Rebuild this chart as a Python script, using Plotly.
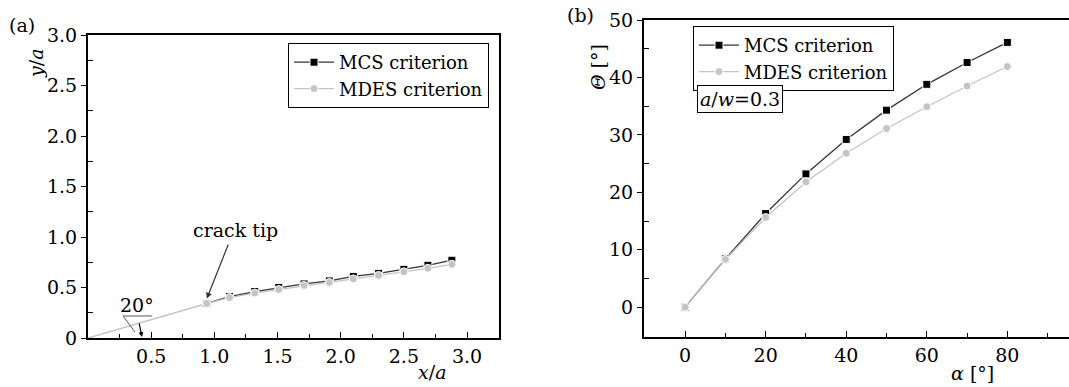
import plotly.graph_objects as go

# ---------------- data ----------------
# panel (a): crack paths
crack_x = [0.0, 0.94]
crack_y = [0.0, 0.342]
a_x = [0.94, 1.12, 1.32, 1.51, 1.71, 1.91, 2.10, 2.30, 2.50, 2.69, 2.88]
a_mcs_y = [0.342, 0.41, 0.46, 0.50, 0.535, 0.565, 0.61, 0.64, 0.68, 0.72, 0.77]
a_mdes_y = [0.342, 0.40, 0.445, 0.48, 0.52, 0.55, 0.585, 0.62, 0.655, 0.69, 0.73]
a_xticks = [0.5, 1.0, 1.5, 2.0, 2.5, 3.0]
a_xticklabels = ["0.5", "1.0", "1.5", "2.0", "2.5", "3.0"]
a_yticks = [0, 0.5, 1.0, 1.5, 2.0, 2.5, 3.0]
a_yticklabels = ["0", "0.5", "1.0", "1.5", "2.0", "2.5", "3.0"]

# panel (b): kink angle vs inclination
b_alpha = [0, 10, 20, 30, 40, 50, 60, 70, 80]
b_mcs = [0, 8.4, 16.3, 23.2, 29.2, 34.3, 38.8, 42.6, 46.1]
b_mdes = [0, 8.3, 15.6, 21.8, 26.8, 31.1, 34.9, 38.5, 41.9]
b_xticks = [0, 20, 40, 60, 80]
b_yticks = [0, 10, 20, 30, 40, 50]

W, H = 1069, 387
FONT = "DejaVu Serif"
FS = 19
LFS = 18
MCS_LINE = "#333333"
MDES_COL = "#c4c4c4"


def px(x):
    return x / W


def py(y):
    return 1 - y / H


fig = go.Figure()

# ---- panel a traces
fig.add_trace(go.Scatter(x=crack_x, y=crack_y, mode="lines",
                         line=dict(color=MDES_COL, width=1.5),
                         showlegend=False, xaxis="x", yaxis="y", hoverinfo="skip"))
fig.add_trace(go.Scatter(x=a_x, y=a_mcs_y, mode="lines+markers", name="MCS criterion",
                         line=dict(color=MCS_LINE, width=1.3),
                         marker=dict(symbol="square", size=8, color="black",
                                     line=dict(color="white", width=1)),
                         xaxis="x", yaxis="y", legend="legend"))
fig.add_trace(go.Scatter(x=a_x, y=a_mdes_y, mode="lines+markers", name="MDES criterion",
                         line=dict(color=MDES_COL, width=1.3),
                         marker=dict(symbol="circle", size=8, color=MDES_COL,
                                     line=dict(color="white", width=1)),
                         xaxis="x", yaxis="y", legend="legend"))

# ---- panel b traces
fig.add_trace(go.Scatter(x=b_alpha, y=b_mcs, mode="lines+markers", name="MCS criterion",
                         line=dict(color=MCS_LINE, width=1.3),
                         marker=dict(symbol="square", size=8, color="black",
                                     line=dict(color="white", width=1)),
                         xaxis="x2", yaxis="y2", legend="legend2"))
fig.add_trace(go.Scatter(x=b_alpha, y=b_mdes, mode="lines+markers", name="MDES criterion",
                         line=dict(color=MDES_COL, width=1.3),
                         marker=dict(symbol="circle", size=8, color=MDES_COL,
                                     line=dict(color="white", width=1)),
                         xaxis="x2", yaxis="y2", legend="legend2"))

tickfont = dict(family=FONT, size=FS, color="black")

axis_common = dict(showline=True, linewidth=2, linecolor="black", mirror=True,
                   showgrid=False, zeroline=False, tickfont=tickfont, automargin=False,
                   tickcolor="black", tickwidth=1.2, tickmode="array")

fig.update_layout(
    width=W, height=H,
    margin=dict(l=0, r=0, t=0, b=0, pad=0, autoexpand=False),
    paper_bgcolor="white", plot_bgcolor="white",
    font=dict(family=FONT, size=FS, color="black"),
    xaxis=dict(domain=[px(88), px(499)], range=[0, 3.253], anchor="y",
               tickvals=a_xticks, ticktext=a_xticklabels,
               ticks="inside", ticklen=6,
               minor=dict(tickmode="array", tickvals=[0.25, 0.75, 1.25, 1.75, 2.25, 2.75, 3.25],
                          ticks="inside", ticklen=4, tickcolor="black", tickwidth=1.2),
               **axis_common),
    yaxis=dict(domain=[py(338), py(35)], range=[0, 3.0], anchor="x",
               tickvals=a_yticks, ticktext=a_yticklabels,
               ticks="outside", ticklen=5,
               minor=dict(tickmode="array", tickvals=[0.25, 0.75, 1.25, 1.75, 2.25, 2.75],
                          ticks="inside", ticklen=5, tickcolor="black", tickwidth=1.2),
               **axis_common),
    xaxis2=dict(domain=[px(644), 1.0], range=[-10.2, 95.3], anchor="y2",
                tickvals=b_xticks, ticktext=[str(v) for v in b_xticks],
                ticks="inside", ticklen=6,
                minor=dict(tickmode="array", tickvals=[10, 30, 50, 70, 90],
                           ticks="inside", ticklen=4, tickcolor="black", tickwidth=1.2),
                **axis_common),
    yaxis2=dict(domain=[py(337), py(20)], range=[-5.2, 50], anchor="x2",
                tickvals=b_yticks, ticktext=[str(v) for v in b_yticks],
                ticks="outside", ticklen=5,
                minor=dict(tickmode="array", tickvals=[5, 15, 25, 35, 45],
                           ticks="inside", ticklen=5, tickcolor="black", tickwidth=1.2),
                **axis_common),
    legend=dict(x=px(288), y=py(43), xanchor="left", yanchor="top",
                bgcolor="white", bordercolor="black", borderwidth=1,
                font=dict(family=FONT, size=LFS, color="black"),
                itemwidth=40, tracegroupgap=0),
    legend2=dict(x=px(693), y=py(26), xanchor="left", yanchor="top",
                 bgcolor="white", bordercolor="black", borderwidth=1,
                 font=dict(family=FONT, size=LFS, color="black"),
                 itemwidth=40, tracegroupgap=0),
)

ann = []


def text(t, x, y, angle=0, **kw):
    d = dict(text=t, x=px(x), y=py(y), xref="paper", yref="paper",
             showarrow=False, textangle=angle, xanchor="center", yanchor="middle",
             font=dict(family=FONT, size=FS, color="black"))
    d.update(kw)
    ann.append(d)


text("(a)", 22, 25)
text("(b)", 580, 15)
text("<i>y</i>/<i>a</i>", 36, 64, angle=-90)
text("<i>x</i>/<i>a</i>", 432, 372)
text("<i>Θ</i> [°]", 598, 67, angle=-90)
text("<i>α</i> [°]", 972, 373)
text("crack tip", 235, 230)
text("20°", 137, 305)
text("<i>a</i>/<i>w</i>=0.3", 739.5, 99, bordercolor="black", borderwidth=1,
     borderpad=2, bgcolor="white")

# crack tip arrow (data coords of panel a)
ann.append(dict(text="", x=0.94, y=0.39, xref="x", yref="y",
                ax=1.115, ay=0.94, axref="x", ayref="y",
                showarrow=True, arrowhead=2, arrowsize=1, arrowwidth=1.2,
                arrowcolor="#333333"))
# 20 degree angle arrow
ann.append(dict(text="", x=0.427, y=0.01, xref="x", yref="y",
                ax=0.403, ay=0.16, axref="x", ayref="y",
                showarrow=True, arrowhead=2, arrowsize=0.8, arrowwidth=1.2,
                arrowcolor="black"))
fig.update_layout(annotations=ann)

# underline and leader of the 20 degree label
fig.add_shape(type="line", xref="x", yref="y", x0=0.277, y0=0.218, x1=0.506, y1=0.218,
              line=dict(color="#555555", width=1))
fig.add_shape(type="line", xref="x", yref="y", x0=0.277, y0=0.218, x1=0.372, y1=0.059,
              line=dict(color="#555555", width=1))

fig.write_html("out.html", config={"displayModeBar": False},
               post_script="document.body.style.margin='0';document.body.style.overflow='hidden';")
